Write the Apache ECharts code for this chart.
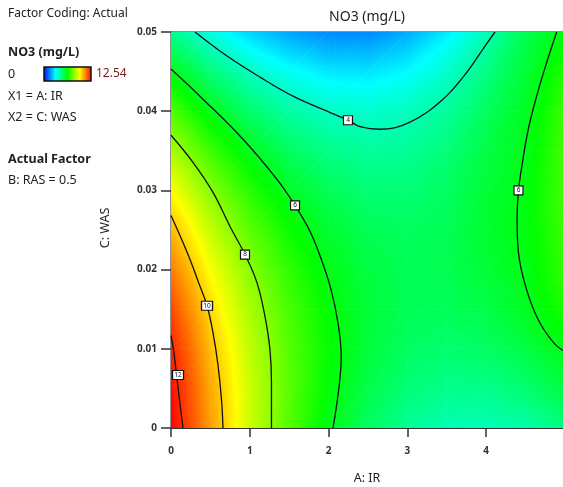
<!DOCTYPE html>
<html><head><meta charset="utf-8">
<script src="https://cdn.jsdelivr.net/npm/echarts@6/dist/echarts.min.js"></script>
<style>html,body{margin:0;padding:0;background:#fff}#c{width:563px;height:487px}</style>
</head><body><div id="c"></div>
<script>
// ---- data ----
const irValues  = [0, 0.5, 1, 1.5, 2, 2.5, 3, 3.5, 4, 4.5, 5];           // A: IR
const wasValues = [0, 0.005, 0.01, 0.015, 0.02, 0.025, 0.03, 0.035, 0.04, 0.045, 0.05]; // C: WAS
// NO3 (mg/L) estimates, one row per WAS value (bottom to top), columns follow irValues
const no3Rows = [
  [12.54, 10.60, 8.78, 7.26, 6.02, 5.08, 4.42, 4.06, 3.98, 4.20, 4.70],
  [12.40, 10.48, 8.77, 7.35, 6.21, 5.37, 4.82, 4.56, 4.59, 4.90, 5.50],
  [12.13, 10.23, 8.62, 7.30, 6.28, 5.54, 5.09, 4.93, 5.06, 5.45, 6.00],
  [11.65,  9.85, 8.35, 7.13, 6.20, 5.57, 5.22, 5.17, 5.40, 5.85, 6.60],
  [11.03,  9.34, 7.94, 6.82, 6.00, 5.47, 5.22, 5.27, 5.61, 6.00, 6.90],
  [10.28,  8.69, 7.39, 6.38, 5.66, 5.23, 5.09, 5.24, 5.68, 6.10, 7.00],
  [ 9.40,  7.92, 6.72, 5.81, 5.20, 4.87, 4.83, 5.08, 5.63, 6.05, 7.10],
  [ 8.39,  7.01, 5.91, 5.11, 4.59, 4.37, 4.44, 4.79, 5.44, 5.95, 7.10],
  [ 7.24,  5.96, 4.97, 4.27, 3.86, 3.74, 3.91, 4.37, 5.12, 5.85, 7.00],
  [ 5.97,  4.79, 3.90, 3.25, 2.85, 2.80, 3.10, 3.75, 4.66, 5.60, 6.70],
  [ 4.56,  3.48, 2.60, 2.00, 1.70, 1.70, 2.10, 2.90, 4.00, 5.25, 6.20]
];
const no3Min = 0, no3Max = 12.54;

// contour lines [IR, WAS]
const contour12 = [[0,0.01165],[0.032,0.00987],[0.070,0.00671],[0.108,0.00354],[0.152,0]];
const contour10 = [[0,0.02684],[0.114,0.0243],[0.241,0.02127],[0.355,0.01823],[0.457,0.01544],[0.533,0.01203],[0.596,0.00797],[0.641,0.00354],[0.660,0]];
const contour8  = [[0,0.03696],[0.279,0.03354],[0.533,0.02975],[0.749,0.02544],[0.939,0.0219],[1.091,0.01835],[1.193,0.01405],[1.256,0.00987],[1.275,0.0057],[1.275,0]];
const contour6a = [[0,0.04532],[0.406,0.04152],[0.914,0.03646],[1.345,0.03139],[1.574,0.0281],[1.760,0.0249],[1.900,0.0215],[2.030,0.0175],[2.120,0.0132],[2.160,0.0090],[2.130,0.0050],[2.056,0]];
const contour4  = [[0.305,0.05],[0.711,0.04696],[1.129,0.0443],[1.548,0.0419],[1.980,0.04],[2.246,0.03886],[2.398,0.03805],[2.652,0.03772],[3.033,0.03861],[3.452,0.04152],[3.756,0.04494],[3.959,0.04785],[4.112,0.05]];
const contour6b = [[4.895,0.05],[4.768,0.04616],[4.641,0.04194],[4.534,0.03772],[4.460,0.03351],[4.410,0.03],[4.392,0.02633],[4.410,0.02211],[4.500,0.01789],[4.660,0.01367],[4.860,0.01072],[5.0,0.00962]];
const contourLabels = [[0.089,0.0067,'12'],[0.457,0.01544,'10'],[0.939,0.0219,'8'],[1.574,0.0281,'6'],[2.246,0.03886,'4'],[4.410,0.03,'6']];

// ---- colour map ----
const cmap = [[0,[0,0,255]],[0.25,[0,255,255]],[0.5,[0,255,0]],[0.75,[255,255,0]],[1,[255,0,0]]];
function colorAt(v){
  let t = (v - no3Min) / (no3Max - no3Min);
  t = Math.max(0, Math.min(1, t));
  for (let k = 1; k < cmap.length; k++) {
    if (t <= cmap[k][0]) {
      const a = cmap[k-1], b = cmap[k];
      const f = (t - a[0]) / (b[0] - a[0]);
      const c = a[1].map((q, i) => Math.round(q + (b[1][i] - q) * f));
      return 'rgb(' + c.join(',') + ')';
    }
  }
  return 'rgb(255,0,0)';
}
function triGradient(P, V){
  const d1x = P[1][0]-P[0][0], d1y = P[1][1]-P[0][1];
  const d2x = P[2][0]-P[0][0], d2y = P[2][1]-P[0][1];
  const dv1 = V[1]-V[0], dv2 = V[2]-V[0];
  const det = d1x*d2y - d1y*d2x;
  const vmin = Math.min(V[0],V[1],V[2]), vmax = Math.max(V[0],V[1],V[2]);
  if (Math.abs(det) < 1e-9 || vmax - vmin < 1e-6) return colorAt((vmin+vmax)/2);
  const gx = (dv1*d2y - dv2*d1y)/det, gy = (d1x*dv2 - d2x*dv1)/det;
  const g2 = gx*gx + gy*gy;
  const sx = P[0][0] + (vmin - V[0])*gx/g2, sy = P[0][1] + (vmin - V[0])*gy/g2;
  const ex = P[0][0] + (vmax - V[0])*gx/g2, ey = P[0][1] + (vmax - V[0])*gy/g2;
  const stops = [{offset:0, color:colorAt(vmin)}];
  cmap.forEach(s => {
    const v = no3Min + s[0]*(no3Max-no3Min);
    if (v > vmin && v < vmax) stops.push({offset:(v-vmin)/(vmax-vmin), color:colorAt(v)});
  });
  stops.push({offset:1, color:colorAt(vmax)});
  return new echarts.graphic.LinearGradient(sx, sy, ex, ey, stops, true);
}

const cells = [];
for (let j = 0; j < wasValues.length-1; j++) {
  for (let i = 0; i < irValues.length-1; i++) {
    cells.push([irValues[i], wasValues[j], irValues[i+1], wasValues[j+1],
      no3Rows[j][i], no3Rows[j][i+1], no3Rows[j+1][i], no3Rows[j+1][i+1]]);
  }
}
function renderCell(params, api){
  const c = cells[params.dataIndex];
  const p00 = api.coord([c[0],c[1]]), p10 = api.coord([c[2],c[1]]);
  const p01 = api.coord([c[0],c[3]]), p11 = api.coord([c[2],c[3]]);
  const mk = (P, V) => { const g = triGradient(P, V); return {type:'polygon', shape:{points:P}, style:{fill:g, stroke:g, lineWidth:0.7}}; };
  return {type:'group', children:[mk([p00,p10,p11],[c[4],c[5],c[7]]), mk([p00,p11,p01],[c[4],c[7],c[6]])]};
}

const FONT = '"Noto Sans", "Open Sans", sans-serif';
const lineStyle = {color:'#111', width:1.3};
function contourSeries(d){
  return {type:'line', data:d, smooth:0.4, symbol:'none', lineStyle:lineStyle, clip:true, z:5, silent:true};
}

const chart = echarts.init(document.getElementById('c'), null, {renderer:'canvas'});
chart.setOption({
  animation:false,
  backgroundColor:'#fff',
  grid:{left:171, top:32, width:394, height:396, containLabel:false, outerBoundsMode:'none',
    show:true, borderColor:'#222', borderWidth:1, backgroundColor:'transparent'},
  xAxis:{type:'value', min:0, max:5, interval:1,
    axisLine:{lineStyle:{color:'#333', width:1}},
    axisTick:{show:true, length:9, lineStyle:{color:'#333', width:1.5}},
    axisLabel:{color:'#333', fontSize:10, fontWeight:'bold', fontFamily:FONT, margin:18, formatter:v => v === 5 ? '' : String(v)},
    splitLine:{show:false}},
  yAxis:{type:'value', min:0, max:0.05, interval:0.01,
    axisLine:{show:true, lineStyle:{color:'#333', width:1}},
    axisTick:{show:true, length:10, lineStyle:{color:'#333', width:1.5}},
    axisLabel:{color:'#333', fontSize:10, fontWeight:'bold', fontFamily:FONT, margin:14, formatter:v => v === 0 ? '0' : v.toFixed(2)},
    splitLine:{show:false}},
  series:[
    {type:'custom', renderItem:renderCell, data:cells.map((c, k) => [c[0], c[1], k]), encode:{x:0, y:1}, clip:true, silent:true, z:1},
    contourSeries(contour12), contourSeries(contour10), contourSeries(contour8),
    contourSeries(contour6a), contourSeries(contour4), contourSeries(contour6b),
    {type:'scatter', z:10, silent:true,
      data:contourLabels.map(l => ({value:[l[0], l[1]], name:l[2]})),
      symbol:'rect', symbolSize:(v, p) => p.name.length > 1 ? [11, 9] : [9, 9],
      itemStyle:{color:'#fff', borderColor:'#111', borderWidth:1.2, opacity:1},
      label:{show:true, position:'inside', formatter:p => p.name, fontSize:6.5, color:'#111', fontFamily:FONT}}
  ],
  graphic:[
    {type:'text', x:8, y:14, style:{text:'Factor Coding: Actual', font:'12px ' + FONT, fill:'#222', verticalAlign:'middle'}},
    {type:'text', x:8, y:52, style:{text:'NO3 (mg/L)', font:'bold 12.5px ' + FONT, fill:'#222', verticalAlign:'middle'}},
    {type:'text', x:8, y:74, style:{text:'0', font:'12.5px ' + FONT, fill:'#222', verticalAlign:'middle'}},
    {type:'rect', shape:{x:44, y:67, width:47, height:14},
      style:{fill:new echarts.graphic.LinearGradient(0,0,1,0, cmap.map(s => ({offset:s[0], color:'rgb(' + s[1].join(',') + ')'}))), stroke:'#111', lineWidth:1.5}},
    {type:'text', x:96, y:74, style:{text:'12.54', font:'12px ' + FONT, fill:'#7a1c1c', verticalAlign:'middle'}},
    {type:'text', x:8, y:96, style:{text:'X1 = A: IR', font:'12.5px ' + FONT, fill:'#222', verticalAlign:'middle'}},
    {type:'text', x:8, y:117, style:{text:'X2 = C: WAS', font:'12.5px ' + FONT, fill:'#222', verticalAlign:'middle'}},
    {type:'text', x:8, y:159, style:{text:'Actual Factor', font:'bold 12.5px ' + FONT, fill:'#222', verticalAlign:'middle'}},
    {type:'text', x:8, y:180, style:{text:'B: RAS = 0.5', font:'12.5px ' + FONT, fill:'#222', verticalAlign:'middle'}},
    {type:'text', x:367, y:17, style:{text:'NO3 (mg/L)', font:'14px ' + FONT, fill:'#222', align:'center', verticalAlign:'middle'}},
    {type:'text', x:367, y:478, style:{text:'A: IR', font:'12.5px ' + FONT, fill:'#222', align:'center', verticalAlign:'middle'}},
    {type:'text', x:105, y:228, rotation:Math.PI/2, style:{text:'C: WAS', font:'12.5px ' + FONT, fill:'#222', align:'center', verticalAlign:'middle'}}
  ]
});
</script></body></html>
